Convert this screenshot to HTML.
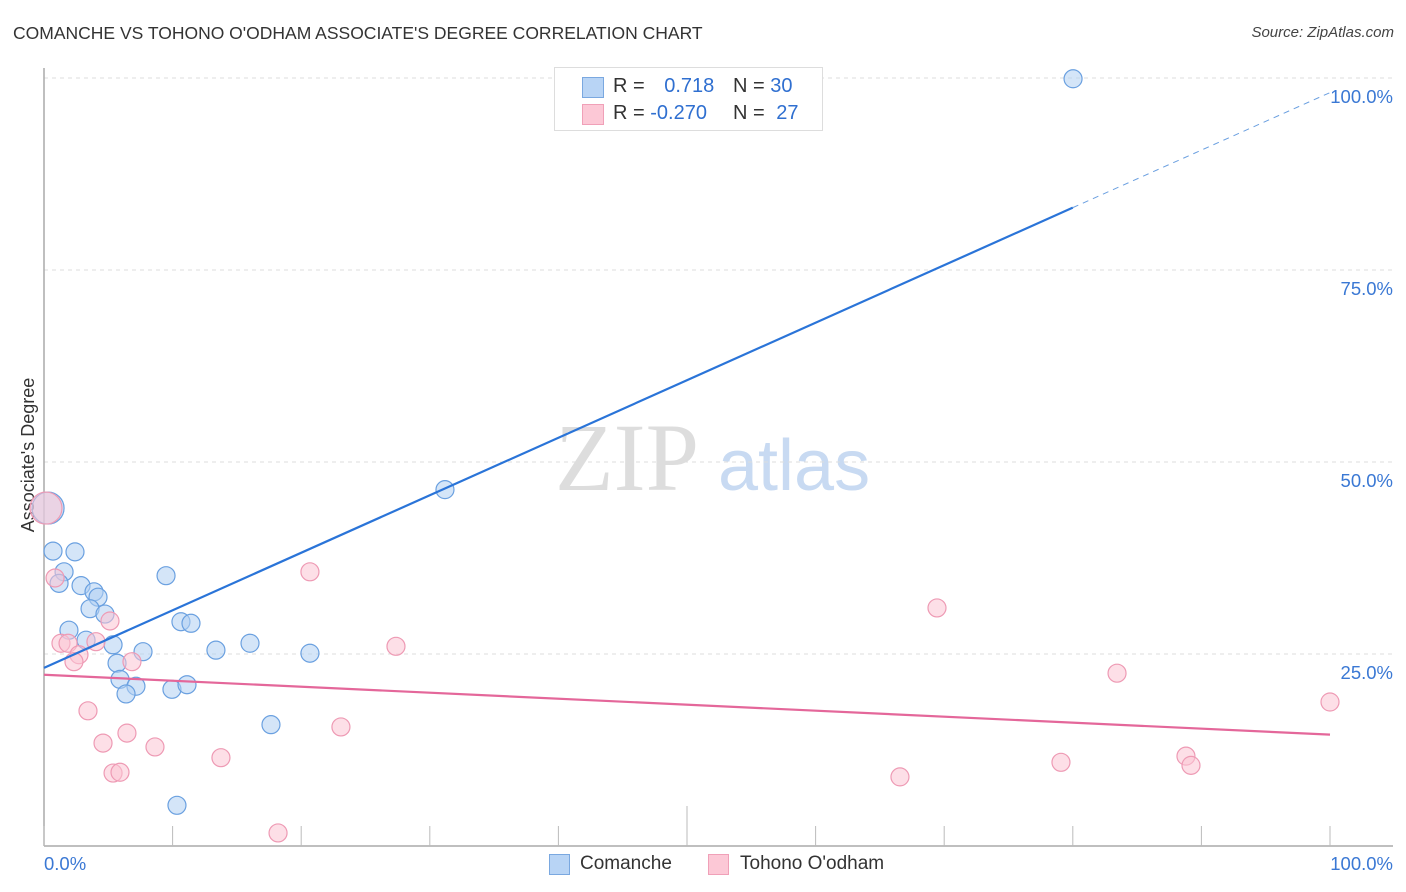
<!DOCTYPE html>
<html><head><meta charset="utf-8">
<style>
body{margin:0;background:#fff;font-family:"Liberation Sans",sans-serif;}
#wrap{position:relative;width:1406px;height:892px;overflow:hidden;}
.t{position:absolute;white-space:nowrap;}
</style></head>
<body>
<div id="wrap">
<div class="t" style="left:13px;top:23px;font-size:17.5px;color:#333;">COMANCHE VS TOHONO O'ODHAM ASSOCIATE'S DEGREE CORRELATION CHART</div>
<div class="t" style="right:12px;top:24px;font-size:15px;color:#444;font-style:italic;">Source: ZipAtlas.com</div>
<svg id="chart" width="1406" height="892" style="position:absolute;left:0;top:0"></svg>
<div style="position:absolute;left:554px;top:67px;width:267px;height:62px;border:1px solid #ddd;background:#fff;font-size:20px;">
  <div style="position:absolute;left:27px;top:9px;width:20px;height:19px;background:#b8d4f5;border:1px solid #7aa8e0;"></div>
  <div class="t" style="left:58px;top:7px;color:#333;">R = <span style="color:#2f6fd0;margin-left:14px">0.718</span></div>
  <div class="t" style="left:178px;top:7px;color:#333;">N = <span style="color:#2f6fd0">30</span></div>
  <div style="position:absolute;left:27px;top:36px;width:20px;height:19px;background:#fcc8d6;border:1px solid #f0a0b8;"></div>
  <div class="t" style="left:58px;top:34px;color:#333;">R = <span style="color:#2f6fd0">-0.270</span></div>
  <div class="t" style="left:178px;top:34px;color:#333;">N = <span style="color:#2f6fd0;margin-left:6px">27</span></div>
</div>
<div style="position:absolute;left:549px;top:854px;font-size:19px;color:#333;">
  <div style="position:absolute;left:0;top:0;width:19px;height:19px;background:#b8d4f5;border:1px solid #7aa8e0;"></div>
  <div class="t" style="left:31px;top:-1px;">Comanche</div>
</div>
<div style="position:absolute;left:708px;top:854px;font-size:19px;color:#333;">
  <div style="position:absolute;left:0;top:0;width:19px;height:19px;background:#fcc8d6;border:1px solid #f0a0b8;"></div>
  <div class="t" style="left:32px;top:-1px;">Tohono O'odham</div>
</div>
</div>
<script>
const blueX=[0.16,0.70,2.41,1.56,1.17,2.88,3.89,4.20,3.58,4.74,1.94,5.37,3.27,7.70,5.68,5.91,7.15,6.38,9.95,11.12,9.49,10.65,11.43,13.37,16.02,20.68,17.65,10.34,31.18,80.02];
const blueY=[44.0,38.4,38.3,35.7,34.2,33.9,33.1,32.4,30.9,30.2,28.1,26.2,26.8,25.3,23.8,21.7,20.8,19.8,20.4,21.0,35.2,29.2,29.0,25.5,26.4,25.1,15.8,5.3,46.4,99.9];
const pinkX=[0,0.86,1.32,1.87,4.04,5.13,2.72,2.33,6.84,3.42,4.59,6.45,8.63,13.76,5.37,5.91,18.20,20.68,23.09,27.37,69.44,66.56,79.08,83.44,88.80,89.19,100];
const pinkY=[44.0,34.9,26.4,26.4,26.6,29.3,24.9,24.0,24.0,17.6,13.4,14.7,12.9,11.5,9.5,9.6,1.7,35.7,15.5,26.0,31.0,9.0,10.9,22.5,11.7,10.5,18.75];
const yTicks=[25,50,75,100];
const yTickLabels=["25.0%","50.0%","75.0%","100.0%"];
const xTicks=[0,10,20,30,40,50,60,70,80,90,100];
const blueTrend=[23.2,0.749];
const pinkTrend=[22.3,-0.078];

const svg=document.getElementById('chart');
const NS='http://www.w3.org/2000/svg';
const X0=44,X1=1330,Y0=846,Y1=78;
const sx=v=>X0+(X1-X0)*v/100;
const sy=v=>Y0-(Y0-Y1)*v/100;
function mk(tag,attrs){const e=document.createElementNS(NS,tag);for(const k in attrs)e.setAttribute(k,attrs[k]);svg.appendChild(e);return e;}

let w=mk('text',{x:555,y:490,'font-family':'Liberation Serif,serif','font-size':96,fill:'#ddd'});w.textContent='ZIP';


w=mk('text',{x:718,y:490,'font-family':'Liberation Sans,sans-serif','font-size':72,fill:'#c8daf2'});w.textContent='atlas';



yTicks.forEach((t,i)=>{
  const g=mk('line',{x1:X0,x2:1393,y1:sy(t),y2:sy(t),stroke:'#ddd','stroke-dasharray':'4,4'});
  
  
  const l=mk('text',{x:1393,y:sy(t)+25,'text-anchor':'end','font-size':18.5,fill:'#3a78d4','font-family':'Liberation Sans,sans-serif'});
  l.textContent=yTickLabels[i];
  
  
});
let ax=mk('line',{x1:X0,x2:X0,y1:68,y2:Y0,stroke:'#aaa','stroke-width':1.5});


ax=mk('line',{x1:X0,x2:1393,y1:Y0,y2:Y0,stroke:'#aaa','stroke-width':1.5});


xTicks.forEach(t=>{
  const tk=mk('line',{x1:sx(t),x2:sx(t),y1:t==50?806:826,y2:Y0,stroke:'#bbb'});
  
  
});
let xl=mk('text',{x:44,y:870,'font-size':18.5,fill:'#3a78d4','font-family':'Liberation Sans,sans-serif'});xl.textContent='0.0%';


xl=mk('text',{x:1393,y:870,'text-anchor':'end','font-size':18.5,fill:'#3a78d4','font-family':'Liberation Sans,sans-serif'});xl.textContent='100.0%';


let yt=mk('text',{x:34,y:455,'text-anchor':'middle','font-size':18,fill:'#333',transform:'rotate(-90 34 455)','font-family':'Liberation Sans,sans-serif'});yt.textContent="Associate's Degree";



function pts(xs,ys,fill,stroke,name){
  xs.forEach((x,i)=>{
    const r=(x<0.5&&ys[i]>43)?16:9;
    const c=mk('circle',{cx:sx(x)+(r>10?2:0),cy:sy(ys[i]),r:r,fill:fill,'fill-opacity':0.55,stroke:stroke,'stroke-width':1.2});
    
    
  });
}
pts(blueX,blueY,'#b0cff2','#6aa0e0','comanche-point');
pts(pinkX,pinkY,'#fbc4d3','#ee9ab4','tohono-point');

let tl=mk('line',{x1:sx(0),y1:sy(blueTrend[0]),x2:sx(80),y2:sy(blueTrend[0]+80*blueTrend[1]),stroke:'#2a74d8','stroke-width':2.2});


tl=mk('line',{x1:sx(80),y1:sy(blueTrend[0]+80*blueTrend[1]),x2:sx(100),y2:sy(blueTrend[0]+100*blueTrend[1]),stroke:'#6a9fe0','stroke-width':1,'stroke-dasharray':'6,5'});


tl=mk('line',{x1:sx(0),y1:sy(pinkTrend[0]),x2:sx(100),y2:sy(pinkTrend[0]+100*pinkTrend[1]),stroke:'#e4679a','stroke-width':2.2});


</script>
</body></html>
